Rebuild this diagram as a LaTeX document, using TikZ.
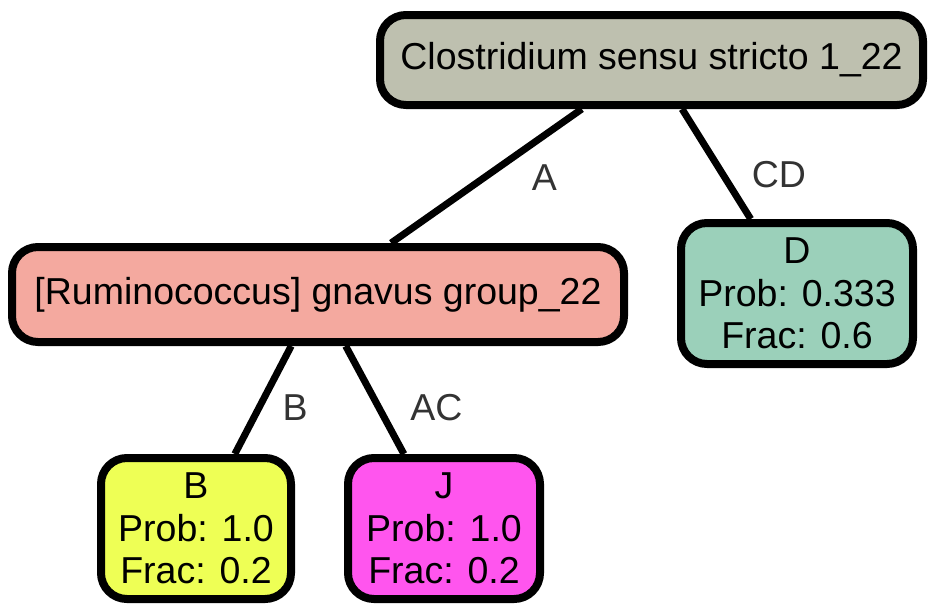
\documentclass[tikz,border=0pt]{standalone}
\usepackage{fontspec}
\setmainfont{Liberation Sans}
\usetikzlibrary{positioning}
\usepackage{xcolor}
\definecolor{rootgray}{HTML}{BEC0AF}
\definecolor{salmon}{HTML}{F4A99F}
\definecolor{mint}{HTML}{9BD0BA}
\definecolor{lemon}{HTML}{EEFF55}
\definecolor{magenta}{HTML}{FF55EE}
\definecolor{labelgray}{HTML}{333333}
\tikzset{
  taxon/.style={draw=black,line width=8pt,rounded corners=26pt,align=center,inner sep=0pt,font=\fontsize{37.5}{42.5}\selectfont},
  leaf/.style={taxon,minimum height=141pt},
  edge/.style={line width=7pt,draw=black},
  elabel/.style={inner sep=0pt,text=labelgray,font=\fontsize{37.5}{42.5}\selectfont}
}

\begin{document}
\begin{tikzpicture}[x=1pt,y=-1pt]
    \useasboundingbox (0,0) rectangle (939,613);
    \node[taxon,fill=rootgray,minimum width=543pt,minimum height=90pt] (root) at (651.5,60) {Clostridium sensu stricto 1\_22};
    \node[taxon,fill=salmon,minimum width=612pt,minimum height=95pt] (rumino) at (318,294.5) {[Ruminococcus] gnavus group\_22};
    \node[leaf,fill=mint,minimum width=232pt] (d) at (797,293.5) {D\\Prob: 0.333\\Frac: 0.6};
    \node[leaf,fill=lemon,minimum width=190pt] (b) at (196,528.5) {B\\Prob: 1.0\\Frac: 0.2};
    \node[leaf,fill=magenta,minimum width=192pt] (j) at (444,528.5) {J\\Prob: 1.0\\Frac: 0.2};
    \draw[edge] (root) -- node[elabel,anchor=west,xshift=42pt,yshift=-2pt] {A} (rumino);
    \draw[edge] (root) -- node[elabel,anchor=west,xshift=32pt,yshift=-11pt] {CD} (d);
    \draw[edge] (rumino) -- node[elabel,anchor=west,xshift=16pt,yshift=-8pt] {B} (b);
    \draw[edge] (rumino) -- node[elabel,anchor=west,xshift=32pt,yshift=-8pt] {AC} (j);
  \end{tikzpicture}
\end{document}
